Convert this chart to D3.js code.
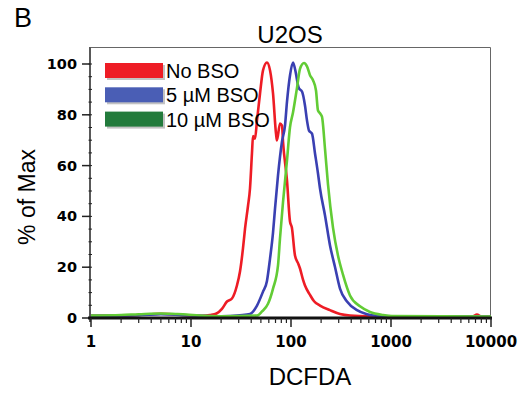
<!DOCTYPE html>
<html>
<head>
<meta charset="utf-8">
<script src="https://cdn.jsdelivr.net/npm/d3@7"></script>
<style>
  body { margin: 0; background: #fff; }
  text { font-family: "Liberation Sans", Arial, sans-serif; }
  .tick-label { font-family: "DejaVu Sans", sans-serif; font-weight: bold; }
</style>
</head>
<body>
<div class="chart-container"></div>
<script>
const svgWidth = 525;
const svgHeight = 395;

// data: [DCFDA intensity, % of max]
const noBSO = [[1,0.3],[2,0.4],[3,0.6],[4,0.9],[5,1.1],[6,1],[8,0.6],[10,0.4],[13,0.3],[15.5,0.6],[18,1.2],
  [20.4,3],[22.9,5.9],[25.7,7.1],[28.8,12.2],[30.9,17.7],[33.1,26.8],[34.7,34.6],[37.2,43.7],[38.9,50.4],
  [40.7,64.2],[41.7,71],[43.7,70],[45.7,77.2],[49,87.8],[52.5,96.9],[57.5,100],[61.7,96.9],[66.1,87.8],
  [70.8,72],[72.4,69.3],[77.6,76],[81.3,75.2],[83.2,68.9],[91.2,53.5],[97.7,37.4],[102,35],[109.6,24],
  [117.5,21],[123,18.9],[131.8,14.5],[138,12.2],[154.9,8.5],[170,6],[195,4.3],[245,2.5],[309,1],[389,0.4],
  [600,0.1],[6500,0],[7244,0.8],[8000,0],[10000,0]];
const bso5 = [[1,0.3],[3,0.5],[5,0.9],[7,0.7],[10,0.4],[20,0.1],[30.9,0.5],[38.9,1],[45.7,4.3],[52.5,9.8],
  [57.5,14],[61.7,22.8],[66.1,33],[69.2,42.5],[74.1,55.5],[81.3,68.9],[87.1,75.2],[91.2,84.6],[97.7,94.9],
  [104.7,100],[112,95.7],[117.5,91],[120.2,89.8],[128.8,88.6],[138,83.1],[144.5,77.2],[151.4,73.2],[162.2,72],
  [173.8,64.2],[186.2,56.3],[195,50.4],[218.8,39.8],[245.5,28],[275.4,19.5],[309,11],[363,5.9],[457,2.5],
  [575,0.9],[724,0.3],[1000,0.1],[10000,0]];
const bso10 = [[1,0.4],[2,0.6],[3,0.9],[5,1.2],[7,1],[9,0.8],[12,0.4],[20,0.1],[45.7,0.4],[51.3,2],[58.9,5],
  [66.1,11],[74.1,20],[77.6,30.7],[83.2,45],[91.2,61.5],[97.7,74.5],[104.7,80.3],[114.8,90],[123,97.5],
  [134.9,99.8],[144.5,98.5],[154.9,95],[166,93],[177.8,89],[186.2,81.1],[195,80],[204,78.7],[218.8,66],
  [234.4,52],[263,35],[295,24],[331,16.5],[389,8.3],[489.8,4],[616.6,1.8],[831.8,0.6],[1023,0.2],[10000,0]];

const seriesNames = ["No BSO", "5 \u00b5M BSO", "10 \u00b5M BSO"];
const lineColors = ["#ee1c25", "#3a40b2", "#62cc35"];
const swatchColors = ["#ee1c25", "#4a5eb5", "#237b3c"];
const yTicks = [0, 20, 40, 60, 80, 100];
const xTicks = [1, 10, 100, 1000, 10000];

const svg = d3.select(".chart-container")
  .append("svg")
  .attr("width", svgWidth)
  .attr("height", svgHeight);

const xScale = d3.scaleLog().domain([1, 10000]).range([91, 491]);
const yScale = d3.scaleLinear().domain([0, 100]).range([318, 64]);

// frame (top + right thin grey)
svg.append("path")
  .attr("d", "M91,47.5H490.5V318")
  .attr("fill", "none")
  .attr("stroke", "#666")
  .attr("stroke-width", 1);

// curves
const line = d3.line()
  .x(d => xScale(d[0]))
  .y(d => yScale(d[1]) - 1.5)
  .curve(d3.curveMonotoneX);

[noBSO, bso5, bso10].forEach(function(s, i) {
  svg.append("path")
    .datum(s)
    .attr("d", line)
    .attr("fill", "none")
    .attr("stroke", lineColors[i])
    .attr("stroke-width", 2.6)
    .attr("stroke-linejoin", "round");
});

// y axis
const yAxisG = svg.append("g").attr("transform", "translate(90,0)");
yAxisG.append("line")
  .attr("x1", 0).attr("x2", 0)
  .attr("y1", 47).attr("y2", 322)
  .attr("stroke", "#222").attr("stroke-width", 1.5);
yAxisG.selectAll(".minor")
  .data(d3.range(0, 101, 5))
  .enter().append("line")
  .attr("x1", -1.5).attr("x2", 2)
  .attr("y1", d => yScale(d)).attr("y2", d => yScale(d))
  .attr("stroke", "#222").attr("stroke-width", 1);
yAxisG.selectAll(".major")
  .data(yTicks)
  .enter().append("line")
  .attr("x1", -8).attr("x2", 0)
  .attr("y1", d => yScale(d)).attr("y2", d => yScale(d))
  .attr("stroke", "#222").attr("stroke-width", 1.5);
yAxisG.selectAll(".ylab")
  .data(yTicks)
  .enter().append("text")
  .attr("class", "tick-label")
  .attr("x", -13)
  .attr("y", d => yScale(d) + 5)
  .attr("text-anchor", "end")
  .style("font-size", "14.5px")
  .text(d => d);

// x axis
const xAxisG = svg.append("g").attr("transform", "translate(0,318)");
xAxisG.append("line")
  .attr("x1", 88).attr("x2", 492)
  .attr("y1", 0).attr("y2", 0)
  .attr("stroke", "#111").attr("stroke-width", 3);
const minorX = [];
for (let dec = 1; dec < 10000; dec *= 10) {
  for (let k = 2; k < 10; k++) minorX.push(dec * k);
}
xAxisG.selectAll(".minor")
  .data(minorX)
  .enter().append("line")
  .attr("x1", d => xScale(d)).attr("x2", d => xScale(d))
  .attr("y1", 0).attr("y2", 5)
  .attr("stroke", "#222").attr("stroke-width", 1.2);
xAxisG.selectAll(".major")
  .data(xTicks)
  .enter().append("line")
  .attr("x1", d => xScale(d)).attr("x2", d => xScale(d))
  .attr("y1", 0).attr("y2", 9)
  .attr("stroke", "#222").attr("stroke-width", 1.5);
xAxisG.selectAll(".xlab")
  .data(xTicks)
  .enter().append("text")
  .attr("class", "tick-label")
  .attr("x", d => xScale(d))
  .attr("y", 29)
  .attr("text-anchor", "middle")
  .style("font-size", "15px")
  .text(d => d);

// titles
svg.append("text").attr("x", 14).attr("y", 27)
  .style("font-size", "27px").text("B");
svg.append("text").attr("x", 290).attr("y", 43)
  .attr("text-anchor", "middle")
  .style("font-size", "24px").text("U2OS");
svg.append("text").attr("x", 310).attr("y", 385)
  .attr("text-anchor", "middle")
  .style("font-size", "24px").text("DCFDA");
svg.append("text")
  .attr("transform", "translate(35,197) rotate(-90)")
  .attr("text-anchor", "middle")
  .style("font-size", "23px").text("% of Max");

// legend
const legend = svg.append("g");
seriesNames.forEach(function(name, i) {
  const y0 = 63 + i * 24.3;
  legend.append("rect")
    .attr("x", 107).attr("y", y0 + 2)
    .attr("width", 58).attr("height", 15)
    .attr("fill", "#999").attr("opacity", 0.6);
  legend.append("rect")
    .attr("x", 105).attr("y", y0)
    .attr("width", 58).attr("height", 15)
    .attr("fill", swatchColors[i]);
  legend.append("text")
    .attr("x", 166).attr("y", y0 + 15)
    .style("font-size", "20px")
    .text(name);
});
</script>
</body>
</html>
